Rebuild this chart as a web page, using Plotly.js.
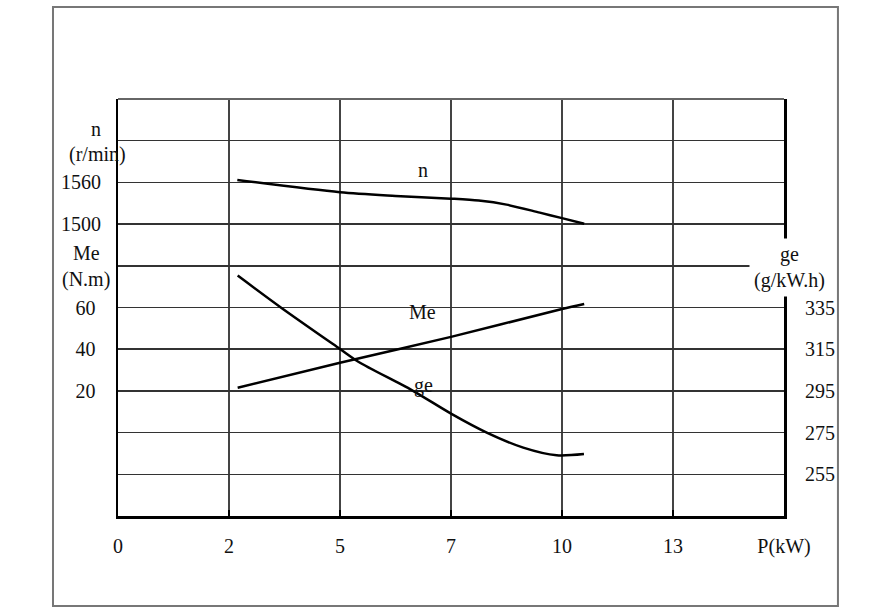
<!DOCTYPE html>
<html>
<head>
<meta charset="utf-8">
<script src="https://cdn.plot.ly/plotly-3.0.1.min.js"></script>
<style>
  html, body { margin: 0; padding: 0; background: #fff; }
  #chart { width: 895px; height: 609px; }
</style>
</head>
<body>
<div id="chart"></div>
<script>
// x is read in grid positions: the P axis is not to scale (0,2,5,7,10,13 evenly spaced)
var xTickText = ['0', '2', '5', '7', '10', '13', 'P(kW)'];

// speed n (r/min)
var nX = [1.075, 2.0, 2.5, 3.0, 3.25, 3.5, 3.8, 4.0, 4.2];
var nY = [1563.5, 1545.8, 1540.6, 1536.6, 1533.8, 1528.0, 1516.5, 1508.6, 1500.6];

// torque Me (N.m)
var meX = [1.078, 2.0, 3.0, 4.0, 4.2];
var meY = [21.5, 33.5, 45.9, 59.3, 61.7];

// specific fuel consumption ge (g/kW.h)
var geX = [1.078, 1.47, 2.0, 2.165, 2.646, 3.0, 3.322, 3.651, 3.952, 4.198];
var geY = [350.3, 334.9, 315.1, 309.0, 295.4, 284.1, 275.0, 267.8, 264.1, 264.7];

var font = {family: '"Liberation Serif", "Times New Roman", serif', size: 20, color: '#111'};
var lineStyle = {color: '#000', width: 2.5, shape: 'spline', smoothing: 0.8};

var data = [
  {x: nX, y: nY, yaxis: 'y2', type: 'scatter', mode: 'lines', line: lineStyle, name: 'n'},
  {x: meX, y: meY, yaxis: 'y', type: 'scatter', mode: 'lines', line: lineStyle, name: 'Me'},
  {x: geX, y: geY, yaxis: 'y3', type: 'scatter', mode: 'lines', line: lineStyle, name: 'ge'}
];

function label(text, x, y, xref, yref, extra) {
  var a = {text: text, x: x, y: y, xref: xref, yref: yref, xanchor: 'center', yanchor: 'middle',
           showarrow: false, font: font};
  for (var k in extra) a[k] = extra[k];
  return a;
}

var layout = {
  width: 895,
  height: 609,
  margin: {l: 118, r: 111, t: 99, b: 93},
  paper_bgcolor: '#fff',
  plot_bgcolor: '#fff',
  showlegend: false,
  font: font,
  xaxis: {
    range: [0, 6],
    tickvals: [0, 1, 2, 3, 4, 5, 6],
    ticktext: xTickText,
    showgrid: true,
    gridcolor: '#444',
    gridwidth: 1.5,
    zeroline: false,
    showline: true,
    linecolor: '#000',
    linewidth: 3,
    ticks: 'inside',
    ticklen: 6,
    tickwidth: 2.5,
    tickcolor: '#000',
    ticklabelstandoff: 10,
    tickfont: font
  },
  yaxis: {
    range: [-40, 160],
    tickvals: [-20, 0, 20, 40, 60, 80, 100, 120, 140],
    ticktext: ['', '', '20', '40', '60', '', '', '', ''],
    showgrid: true,
    gridcolor: '#333',
    gridwidth: 1.5,
    zeroline: false,
    showline: true,
    linecolor: '#000',
    linewidth: 2.5,
    ticks: '',
    ticklabelstandoff: 16,
    tickfont: font
  },
  yaxis2: {
    overlaying: 'y',
    side: 'left',
    range: [1080, 1680],
    tickvals: [1500, 1560],
    showgrid: false,
    zeroline: false,
    ticks: '',
    ticklabelstandoff: 16,
    tickfont: font
  },
  yaxis3: {
    overlaying: 'y',
    side: 'right',
    range: [235, 435],
    tickvals: [255, 275, 295, 315, 335],
    showgrid: false,
    zeroline: false,
    showline: true,
    linecolor: '#000',
    linewidth: 3,
    ticks: '',
    ticklabelstandoff: 14,
    tickfont: font
  },
  annotations: [
    label('n', 2.75, 1578, 'x', 'y2'),
    label('Me', 2.74, 57.8, 'x', 'y'),
    label('ge', 2.75, 297.5, 'x', 'y3'),
    label('n', -0.033, 0.928, 'paper', 'paper'),
    label('(r/min)', -0.0315, 0.868, 'paper', 'paper'),
    label('Me', -0.048, 0.631, 'paper', 'paper'),
    label('(N.m)', -0.048, 0.566, 'paper', 'paper'),
    label('ge<br>(g/kW.h)', 1.009, 0.597, 'paper', 'paper', {bgcolor: '#fff', borderpad: 4})
  ],
  shapes: [
    {type: 'line', xref: 'paper', yref: 'paper', x0: 0, x1: 1, y0: 1, y1: 1,
     line: {color: '#666', width: 2}},
    {type: 'rect', xref: 'paper', yref: 'paper', x0: -0.0976, x1: 1.081, y0: -0.2158, y1: 1.2206,
     line: {color: '#777', width: 2}, layer: 'below'}
  ]
};

Plotly.newPlot('chart', data, layout, {staticPlot: true, displayModeBar: false});
</script>
</body>
</html>
